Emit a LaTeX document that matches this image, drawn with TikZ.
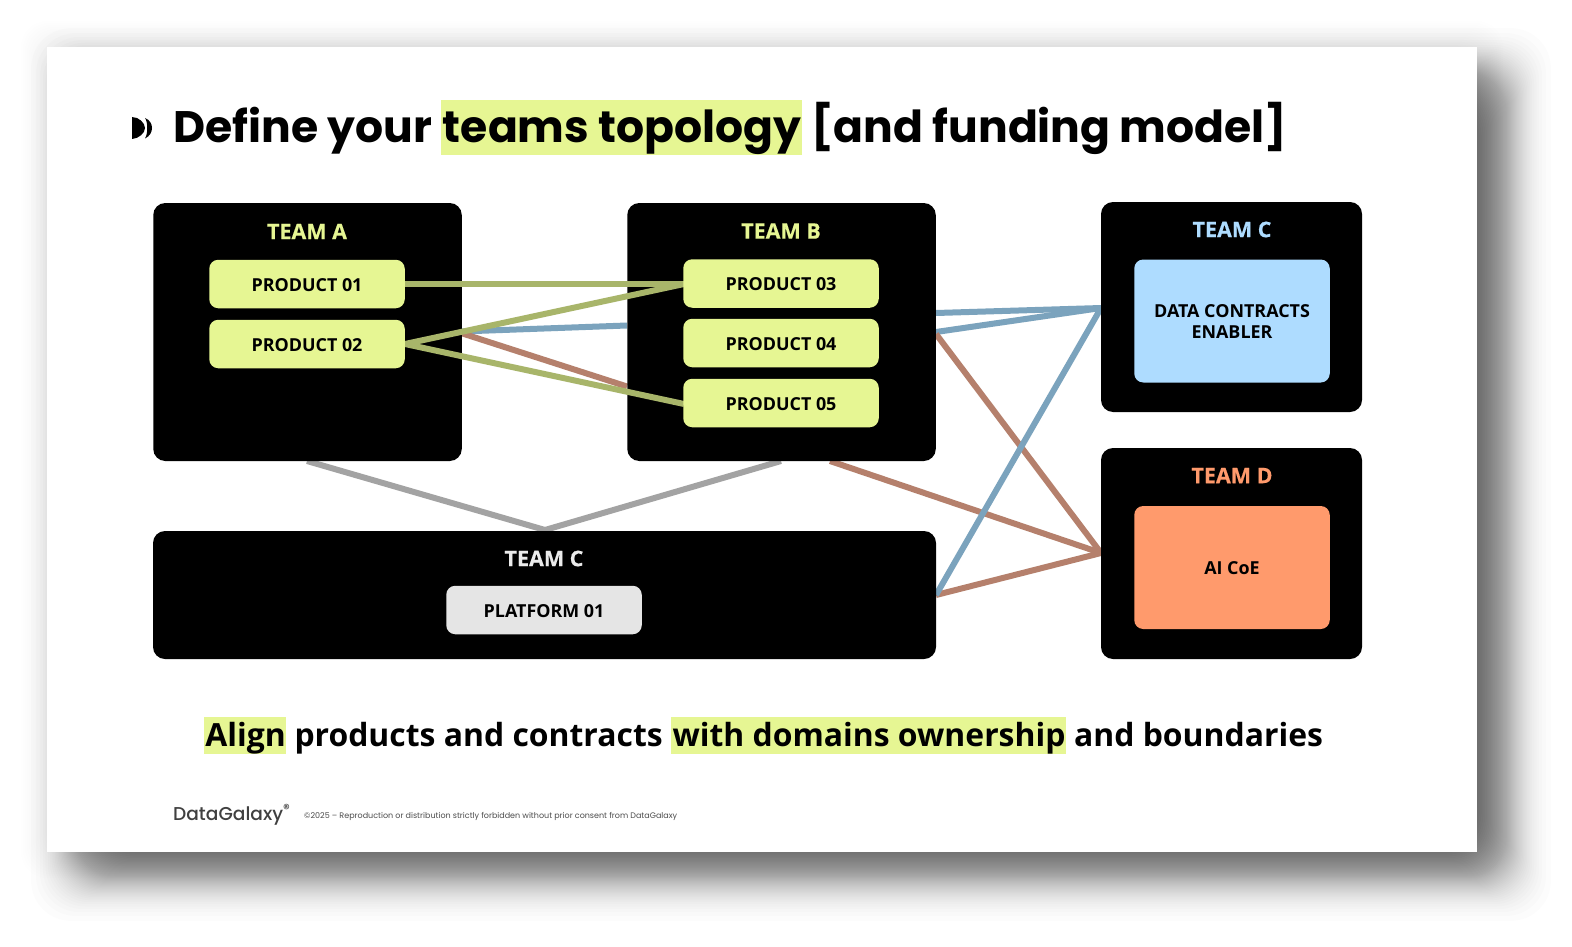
\documentclass[tikz,border=0pt]{standalone}
\usepackage{fontspec}
\setmainfont{Open Sans}
\newfontfamily\popfont{Poppins}
\newfontfamily\popmed{Poppins Medium}
\definecolor{lime}{HTML}{E6F693}
\definecolor{skyfill}{HTML}{AEDCFF}
\definecolor{coral}{HTML}{FF9A6C}
\definecolor{olive}{HTML}{A8B56A}
\definecolor{steel}{HTML}{7BA3BD}
\definecolor{clay}{HTML}{B5806C}
\definecolor{greyline}{HTML}{A3A3A3}
\newcommand{\hlbox}[3]{\setlength{\fboxsep}{0pt}\colorbox{lime}{\rule[#1]{0pt}{#2}\kern1.5pt #3\kern0.3pt}}
\tikzset{
  team/.style={fill=black,rounded corners=12pt,inner sep=0pt},
  inner/.style={rounded corners=9pt,inner sep=0pt,align=center,font=\fontsize{17.9}{21}\selectfont\bfseries,text=black,minimum width=195.5pt},
  single/.style={text height=16pt,text depth=1.2pt},
  product/.style={inner,single,fill=lime,minimum height=48.5pt},
  tlabel/.style={inner sep=0pt,font=\fontsize{21.5}{24}\selectfont\addfontfeature{FakeBold=0.4}\bfseries},
  conn/.style={line width=6pt},
}
\begin{document}
\begin{tikzpicture}[x=1pt,y=-1pt]
\useasboundingbox (0,0) rectangle (1572,947);
\fill[white] (0,0) rectangle (1572,947);
% soft shadow
\foreach \i in {1,...,58}{
  \pgfmathsetmacro{\r}{14*ln((\i-0.5)/(60-\i+0.5))}
  \fill[black,fill opacity=0.012,rounded corners=40pt] (75-\r,72-\r) rectangle (1507+\r,877+\r);
}
\foreach \r in {2,4,...,26}{
  \fill[black,fill opacity=0.004,rounded corners=26pt] (47-\r,47-\r) rectangle (1477+\r,852+\r);
}
\node[fill=white,inner sep=0pt,minimum width=1430pt,minimum height=805pt] (slide) at (762,449.5) {};

% title
\fill[black] (132,117) .. controls (139,117) and (145,123) .. (145,128) .. controls (145,133) and (139,138.5) .. (132,139) -- cycle;
\fill[black] (145,118) .. controls (150,120) and (152,124) .. (152,128) .. controls (152,132) and (150,136) .. (145,138.5) .. controls (148,134) and (148,122) .. (145,118) -- cycle;
\node[anchor=base west,inner sep=0pt,font=\popfont\fontsize{44.1}{50}\selectfont\bfseries] (title) at (173,143)
  {Define your \hlbox{-10.4pt}{53pt}{teams topology} [and funding model]};

% connectors that pass behind the team boxes
\coordinate (a1) at (461,331.5);
\coordinate (a2) at (461,333);
\coordinate (b1) at (627,325.5);
\coordinate (b2) at (627,386.5);
\coordinate (b3) at (936,313);
\coordinate (b4) at (936,332);
\coordinate (b5) at (936,334);
\coordinate (b6) at (830,461);
\coordinate (c1) at (1101,308);
\coordinate (d1) at (1101,553);
\coordinate (e1) at (936,595);
\coordinate (g1) at (307,461);
\coordinate (g2) at (781,461);
\coordinate (g3) at (545,530);
\draw[conn,steel] (a1) -- (b1);
\draw[conn,clay] (a2) -- (b2);
\draw[conn,steel] (b3) -- (c1);
\draw[conn,steel] (b4) -- (c1);
\draw[conn,clay] (b5) -- (d1);
\draw[conn,clay] (b6) -- (d1);
\draw[conn,clay] (e1) -- (d1);
\draw[conn,steel] (e1) -- (c1);
\draw[conn,greyline] (g1) -- (g3);
\draw[conn,greyline] (g2) -- (g3);

% team boxes
\node[team,minimum width=308.5pt,minimum height=258pt] (teamA) at (307.5,332) {};
\node[team,minimum width=308.5pt,minimum height=258pt] (teamB) at (781.5,332) {};
\node[team,minimum width=261pt,minimum height=210pt] (teamC) at (1231.5,307) {};
\node[team,minimum width=261pt,minimum height=211pt] (teamD) at (1231.5,553.5) {};
\node[team,minimum width=783pt,minimum height=128pt] (teamE) at (544.5,595) {};

\node[tlabel,text=lime] (la) at (307,231.5) {TEAM A};
\node[tlabel,text=lime] (lb) at (781,231) {TEAM B};
\node[tlabel,text=skyfill] (lc) at (1232,229.5) {TEAM C};
\node[tlabel,text=coral] (ld) at (1232,475.5) {TEAM D};
\node[tlabel,text=white!92!black] (le) at (544,558.5) {TEAM C};

% product connectors (over the team boxes, under the products)
\coordinate (p1r) at (405,284);
\coordinate (p2r) at (405,344);
\coordinate (p3l) at (684,284);
\coordinate (p5l) at (684,404);
\draw[conn,olive] (p1r) -- (p3l);
\draw[conn,olive] (p2r) -- (p3l);
\draw[conn,olive] (p2r) -- (p5l);

% inner boxes
\node[product] (p1) at (307,284) {PRODUCT 01};
\node[product] (p2) at (307,344) {PRODUCT 02};
\node[product] (p3) at (781,283.5) {PRODUCT 03};
\node[product] (p4) at (781,343) {PRODUCT 04};
\node[product] (p5) at (781,403) {PRODUCT 05};
\node[inner,fill=skyfill,minimum height=123pt] (contracts) at (1232,321) {\rule{0pt}{14.5pt}DATA CONTRACTS\\ENABLER};
\node[inner,single,fill=coral,minimum height=123pt] (coe) at (1232,567.5) {AI CoE};
\node[inner,single,fill=white!90!black,minimum height=48.5pt] (platform) at (544,610) {PLATFORM 01};

% caption
\node[anchor=base,inner sep=0pt,font=\fontsize{31.9}{36}\selectfont\bfseries] (caption) at (763.5,746)
  {\hlbox{-8pt}{37pt}{Align} products and contracts \hlbox{-8pt}{37pt}{with domains ownership} and boundaries};

% footer
\node[anchor=base west,inner sep=0pt,text=black!75,font=\popmed\fontsize{18.6}{21}\selectfont] (logo) at (173,820) {DataGalaxy\textsuperscript{®}};
\node[anchor=base west,inner sep=0pt,text=black!70,font=\popfont\fontsize{8}{10}\selectfont] (copy) at (304,818) {©2025 – Reproduction or distribution strictly forbidden without prior consent from DataGalaxy};
\end{tikzpicture}
\end{document}
